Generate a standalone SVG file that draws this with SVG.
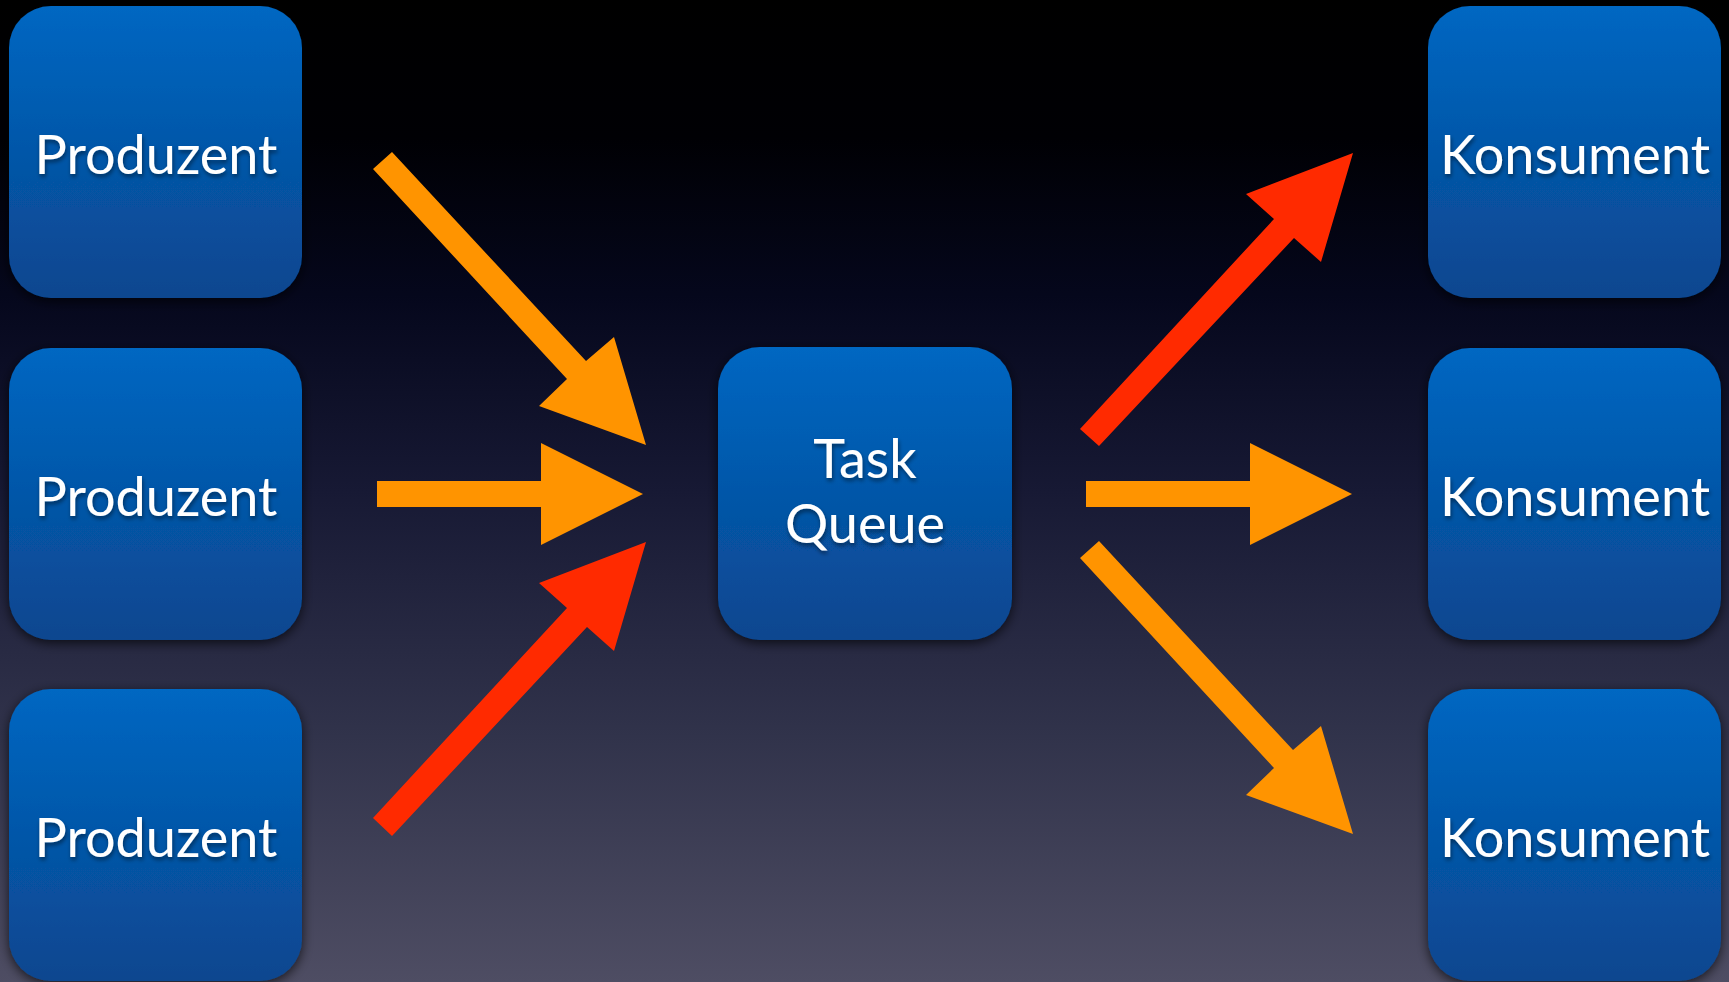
<svg xmlns="http://www.w3.org/2000/svg" width="1729" height="982" viewBox="0 0 1729 982">
<defs>
<linearGradient id="bg" x1="0" y1="0" x2="0" y2="1">
<stop offset="0" stop-color="#000000"/>
<stop offset="0.14" stop-color="#000004"/>
<stop offset="0.3" stop-color="#05071c"/>
<stop offset="0.5" stop-color="#171934"/>
<stop offset="0.75" stop-color="#31334b"/>
<stop offset="1" stop-color="#4e4d63"/>
</linearGradient>
<linearGradient id="box" x1="0" y1="0" x2="0" y2="1">
<stop offset="0" stop-color="#0067c2"/>
<stop offset="1" stop-color="#0a468f"/>
</linearGradient>
<filter id="shadow" x="-20%" y="-20%" width="140%" height="140%">
<feGaussianBlur in="SourceAlpha" stdDeviation="6"/>
<feOffset dx="0" dy="3" result="b"/>
<feComponentTransfer><feFuncA type="linear" slope="0.7"/></feComponentTransfer>
<feMerge><feMergeNode/><feMergeNode in="SourceGraphic"/></feMerge>
</filter>
<filter id="tshadow" x="-10%" y="-20%" width="120%" height="150%">
<feGaussianBlur in="SourceAlpha" stdDeviation="2"/>
<feOffset dx="1" dy="3" result="b"/>
<feComponentTransfer><feFuncA type="linear" slope="0.45"/></feComponentTransfer>
<feMerge><feMergeNode/><feMergeNode in="SourceGraphic"/></feMerge>
</filter>
</defs>
<style>
.box{fill:url(#box);filter:url(#shadow);}
.lbl{fill:#ffffff;font-family:Lato,"Open Sans","Liberation Sans",sans-serif;font-size:54px;text-anchor:middle;filter:url(#tshadow);}
.org{fill:#ff9400;}
.red{fill:#ff2a00;}
</style>
<rect x="0" y="0" width="1729" height="982" fill="url(#bg)"/>
<g id="p1"><rect class="box" x="9" y="6" width="293" height="292" rx="42"/><text class="lbl" x="156" y="174">Produzent</text></g>
<g id="p2"><rect class="box" x="9" y="348" width="293" height="292" rx="42"/><text class="lbl" x="156" y="516">Produzent</text></g>
<g id="p3"><rect class="box" x="9" y="689" width="293" height="292" rx="42"/><text class="lbl" x="156" y="857">Produzent</text></g>
<g id="queue"><rect class="box" x="718" y="347" width="294" height="293" rx="42"/><text class="lbl" x="865" y="478">Task</text><text class="lbl" x="865" y="543">Queue</text></g>
<g id="k1"><rect class="box" x="1428" y="6" width="293" height="292" rx="42"/><text class="lbl" x="1575" y="174">Konsument</text></g>
<g id="k2"><rect class="box" x="1428" y="348" width="293" height="292" rx="42"/><text class="lbl" x="1575" y="516">Konsument</text></g>
<g id="k3"><rect class="box" x="1428" y="689" width="293" height="292" rx="42"/><text class="lbl" x="1575" y="857">Konsument</text></g>
<g id="connectors">
<polygon class="org" points="373,169 392,152 586,361 614,337 646,445 539,406 567,379"/>
<polygon class="org" points="377,481 541,481 541,443 643,494 541,545 541,507 377,507"/>
<polygon class="red" points="392,836 373,818 567,608 539,583 646,542 614,651 587,627"/>
<polygon class="red" points="1099,446 1080,429 1274,219 1246,194 1353,153 1321,262 1294,238"/>
<polygon class="org" points="1086,481 1250,481 1250,443 1352,494 1250,545 1250,507 1086,507"/>
<polygon class="org" points="1080,558 1099,541 1293,750 1321,726 1353,834 1246,795 1274,768"/>
</g>
</svg>
